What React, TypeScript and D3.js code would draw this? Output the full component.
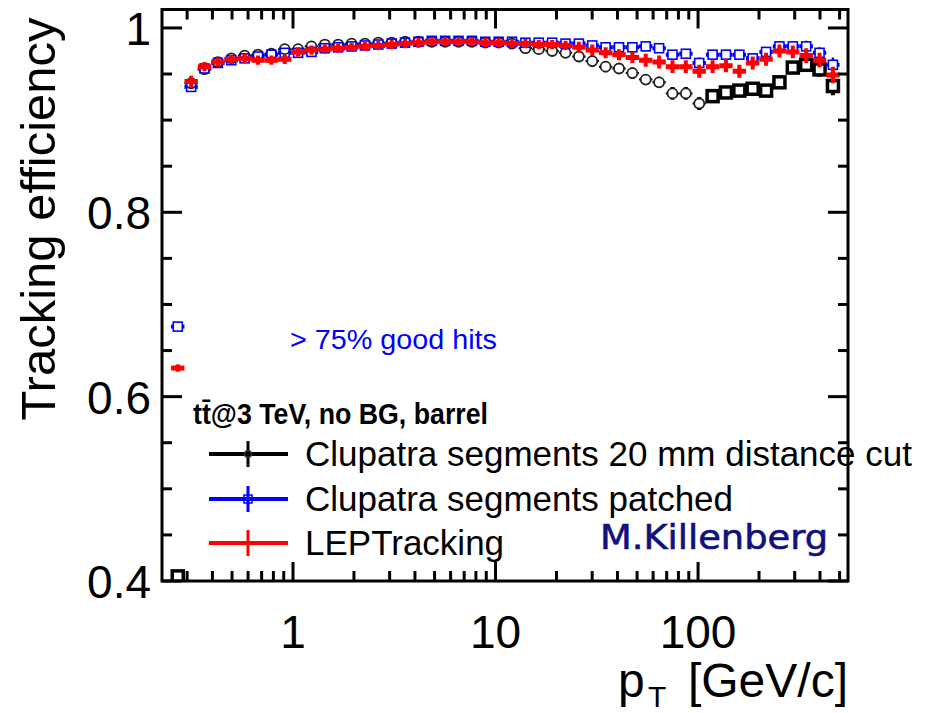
import * as d3 from 'd3'

// pT binning: 50 log bins between 0.25 and 500 GeV/c
const binLow = 0.25
const binHigh = 500
const nBins = 50

// efficiencies per bin
const clupatra20mm = [
  0.405, 0.940, 0.955, 0.963, 0.967, 0.970, 0.971, 0.972, 0.977, 0.977,
  0.980, 0.982, 0.982, 0.983, 0.983, 0.984, 0.984, 0.985, 0.985, 0.985,
  0.985, 0.985, 0.985, 0.984, 0.984, 0.983, 0.978, 0.977, 0.975, 0.973,
  0.969, 0.964, 0.958, 0.956, 0.951, 0.944, 0.941, 0.929, 0.929, 0.918,
  0.926, 0.930, 0.932, 0.934, 0.932, 0.941, 0.957, 0.960, 0.955, 0.937,
]
const clupatra20mmErr = [
  0.003, 0.004, 0.003, 0.003, 0.003, 0.003, 0.003, 0.003, 0.003, 0.003,
  0.003, 0.003, 0.003, 0.003, 0.003, 0.003, 0.003, 0.003, 0.003, 0.003,
  0.003, 0.003, 0.003, 0.003, 0.004, 0.004, 0.005, 0.005, 0.005, 0.005,
  0.005, 0.006, 0.006, 0.006, 0.006, 0.006, 0.006, 0.007, 0.007, 0.007,
  0.006, 0.006, 0.006, 0.006, 0.006, 0.006, 0.007, 0.007, 0.008, 0.010,
]
const clupatraPatched = [
  0.676, 0.936, 0.956, 0.962, 0.965, 0.967, 0.969, 0.971, 0.973, 0.973,
  0.974, 0.978, 0.979, 0.980, 0.981, 0.982, 0.983, 0.984, 0.985, 0.986,
  0.986, 0.986, 0.986, 0.985, 0.985, 0.985, 0.984, 0.984, 0.984, 0.983,
  0.983, 0.981, 0.979, 0.979, 0.979, 0.980, 0.978, 0.971, 0.972, 0.962,
  0.971, 0.971, 0.971, 0.967, 0.974, 0.980, 0.980, 0.980, 0.973, 0.960,
]
const clupatraPatchedErr = [
  0.004, 0.004, 0.003, 0.003, 0.003, 0.003, 0.003, 0.003, 0.003, 0.003,
  0.003, 0.003, 0.003, 0.003, 0.003, 0.003, 0.003, 0.003, 0.003, 0.003,
  0.003, 0.003, 0.003, 0.003, 0.003, 0.003, 0.003, 0.003, 0.003, 0.004,
  0.004, 0.004, 0.004, 0.004, 0.005, 0.005, 0.005, 0.005, 0.005, 0.006,
  0.005, 0.005, 0.005, 0.005, 0.005, 0.005, 0.005, 0.006, 0.006, 0.008,
]
const lepTracking = [
  0.631, 0.942, 0.958, 0.963, 0.966, 0.967, 0.965, 0.965, 0.966, 0.974,
  0.976, 0.977, 0.978, 0.979, 0.980, 0.981, 0.982, 0.983, 0.984, 0.985,
  0.985, 0.985, 0.985, 0.984, 0.984, 0.983, 0.983, 0.982, 0.982, 0.981,
  0.979, 0.976, 0.973, 0.971, 0.968, 0.965, 0.963, 0.958, 0.958, 0.953,
  0.958, 0.959, 0.953, 0.962, 0.966, 0.975, 0.974, 0.970, 0.965, 0.949,
]
const lepTrackingErr = [
  0.004, 0.006, 0.005, 0.005, 0.005, 0.005, 0.005, 0.005, 0.005, 0.005,
  0.005, 0.005, 0.005, 0.005, 0.005, 0.005, 0.005, 0.005, 0.005, 0.005,
  0.005, 0.005, 0.005, 0.005, 0.005, 0.005, 0.005, 0.005, 0.005, 0.005,
  0.006, 0.006, 0.006, 0.006, 0.006, 0.007, 0.007, 0.007, 0.007, 0.007,
  0.007, 0.007, 0.007, 0.007, 0.007, 0.007, 0.007, 0.008, 0.008, 0.009,
]

const legendLabels = [
  'Clupatra segments 20 mm distance cut',
  'Clupatra segments patched',
  'LEPTracking',
]
const yTicks = [0.4, 0.6, 0.8, 1]
const xTickLabels = [1, 10, 100]

const width = 927
const height = 713
const marginLeft = 162
const marginRight = 79
const marginTop = 9.5
const marginBottom = 132

const font = '"Liberation Sans", Arial, Helvetica, sans-serif'

export default function App() {
  const x = d3.scaleLog([0.2255, 550], [marginLeft, width - marginRight])
  const y = d3.scaleLinear([0.4, 1.02], [height - marginBottom, marginTop])
  const x0 = marginLeft
  const x1 = width - marginRight
  const y0 = height - marginBottom
  const y1 = marginTop

  const edges = d3.range(nBins + 1).map((k) => binLow * Math.pow(binHigh / binLow, k / nBins))
  const centers = d3.range(nBins).map((k) => Math.sqrt(edges[k] * edges[k + 1]))

  // minor ticks
  const xMinor = d3.range(-1, 3).flatMap((e) =>
    d3.range(2, 10).map((m) => m * Math.pow(10, e))
  ).filter((v) => v > 0.2255 && v < 550)
  const yMinor = d3.range(0.4, 1.02, 0.05).filter((v) => Math.abs((v * 10) % 2) > 0.01)

  // one histogram with error bars, ROOT style: error lines stop at the marker
  function series(
    vals: number[],
    errs: number[],
    color: string,
    hw: number,
    vw: number,
    gap: (i: number) => number,
    marker: (cx: number, cy: number, i: number) => JSX.Element | null
  ) {
    return vals.map((v, i) => {
      const cx = x(centers[i])
      const cy = y(v)
      const g = gap(i)
      const top = Math.max(y(v + errs[i]), y1)
      const bot = Math.min(y(v - errs[i]), y0)
      return (
        <g key={i}>
          <line x1={x(edges[i])} x2={cx - g} y1={cy} y2={cy} stroke={color} strokeWidth={hw} />
          <line x1={cx + g} x2={x(edges[i + 1])} y1={cy} y2={cy} stroke={color} strokeWidth={hw} />
          {cy - g > top && <line x1={cx} x2={cx} y1={top} y2={cy - g} stroke={color} strokeWidth={vw} />}
          {cy + g < bot && <line x1={cx} x2={cx} y1={cy + g} y2={bot} stroke={color} strokeWidth={vw} />}
          {marker(cx, cy, i)}
        </g>
      )
    })
  }

  const blackSquare = (i: number) => i === 0 || i >= 40

  const legendY = [454, 499, 543]
  const legendColors = ['#000', '#0000ff', '#ff0000']

  return (
    <svg
      width={width}
      height={height}
      style={{ position: 'absolute', left: 0, top: 0, background: '#fff' }}
      fontFamily={font}
    >
      <defs>
        <clipPath id="frame">
          <rect x={x0} y={y1} width={x1 - x0} height={y0 - y1} />
        </clipPath>
      </defs>

      <g clipPath="url(#frame)">
        {series(
          clupatra20mm,
          clupatra20mmErr,
          '#000',
          2,
          4,
          (i) => (blackSquare(i) ? 5.5 : 5),
          (cx, cy, i) =>
            blackSquare(i) ? (
              <rect x={cx - 5.5} y={cy - 5.5} width={11} height={11} fill="none" stroke="#000" strokeWidth={3.5} />
            ) : (
              <circle cx={cx} cy={cy} r={5} fill="none" stroke="#222" strokeWidth={1.8} />
            )
        )}
        {series(
          clupatraPatched,
          clupatraPatchedErr,
          '#0000ff',
          4,
          2.5,
          () => 4.5,
          (cx, cy) => (
            <rect x={cx - 4.5} y={cy - 4.5} width={9} height={9} fill="none" stroke="#0000ff" strokeWidth={1.6} />
          )
        )}
        {series(
          lepTracking,
          lepTrackingErr,
          '#ff0000',
          5,
          4,
          () => 0,
          (cx, cy) => <rect x={cx - 2.5} y={cy - 2.5} width={5} height={5} fill="#ff0000" />
        )}
      </g>

      {/* frame */}
      <rect x={x0} y={y1} width={x1 - x0} height={y0 - y1} fill="none" stroke="#000" strokeWidth={3} />

      {/* x ticks */}
      {xTickLabels.map((t) => (
        <g key={t}>
          <line x1={x(t)} x2={x(t)} y1={y0} y2={y0 - 19} stroke="#000" strokeWidth={3} />
          <line x1={x(t)} x2={x(t)} y1={y1} y2={y1 + 19} stroke="#000" strokeWidth={3} />
          <text x={x(t)} y={648} fontSize={46} textAnchor="middle">
            {t}
          </text>
        </g>
      ))}
      {xMinor.map((t) => (
        <g key={t}>
          <line x1={x(t)} x2={x(t)} y1={y0} y2={y0 - 10} stroke="#000" strokeWidth={3} />
          <line x1={x(t)} x2={x(t)} y1={y1} y2={y1 + 10} stroke="#000" strokeWidth={3} />
        </g>
      ))}

      {/* y ticks */}
      {yTicks.map((t) => (
        <g key={t}>
          <line x1={x0} x2={x0 + 20} y1={y(t)} y2={y(t)} stroke="#000" strokeWidth={3} />
          <line x1={x1} x2={x1 - 20} y1={y(t)} y2={y(t)} stroke="#000" strokeWidth={3} />
          <text x={151} y={y(t) + 17} fontSize={46} textAnchor="end">
            {t === 1 ? '1' : t.toFixed(1)}
          </text>
        </g>
      ))}
      {yMinor.map((t) => (
        <g key={t}>
          <line x1={x0} x2={x0 + 10} y1={y(t)} y2={y(t)} stroke="#000" strokeWidth={3} />
          <line x1={x1} x2={x1 - 10} y1={y(t)} y2={y(t)} stroke="#000" strokeWidth={3} />
        </g>
      ))}

      {/* axis titles */}
      <text transform="translate(55,219) rotate(-90)" fontSize={49} textAnchor="middle">
        Tracking efficiency
      </text>
      <text x={618} y={697} fontSize={48}>
        p
      </text>
      <text x={648} y={707} fontSize={30}>
        T
      </text>
      <text x={848} y={697} fontSize={48} textAnchor="end">
        [GeV/c]
      </text>

      {/* annotations */}
      <text x={290} y={349} fontSize={27} fill="#0000ff" textLength={207} lengthAdjust="spacingAndGlyphs">
        {'> 75% good hits'}
      </text>
      <text x={193} y={424} fontSize={29} fontWeight="bold" textLength={295} lengthAdjust="spacingAndGlyphs">
        {'tt\u0304@3 TeV, no BG, barrel'}
      </text>
      {legendLabels.map((l, i) => (
        <g key={l}>
          <line x1={209} x2={288} y1={legendY[i]} y2={legendY[i]} stroke={legendColors[i]} strokeWidth={4} />
          <line x1={248} x2={248} y1={legendY[i] - 13} y2={legendY[i] + 13} stroke={legendColors[i]} strokeWidth={3} />
          {i === 0 && <circle cx={248} cy={legendY[i]} r={3.5} fill="none" stroke="#333" strokeWidth={1.5} />}
          {i === 1 && <rect x={244} y={legendY[i] - 4} width={8} height={8} fill="none" stroke="#0000ff" strokeWidth={1.5} />}
          <text x={305} y={legendY[i] + 12} fontSize={35}>
            {l}
          </text>
        </g>
      ))}
      <text
        x={600}
        y={549}
        fontSize={34}
        fill="#10107e"
        stroke="#10107e"
        strokeWidth={0.6}
        fontFamily='"DejaVu Sans", sans-serif'
        textLength={228}
        lengthAdjust="spacingAndGlyphs"
      >
        M.Killenberg
      </text>
    </svg>
  )
}
